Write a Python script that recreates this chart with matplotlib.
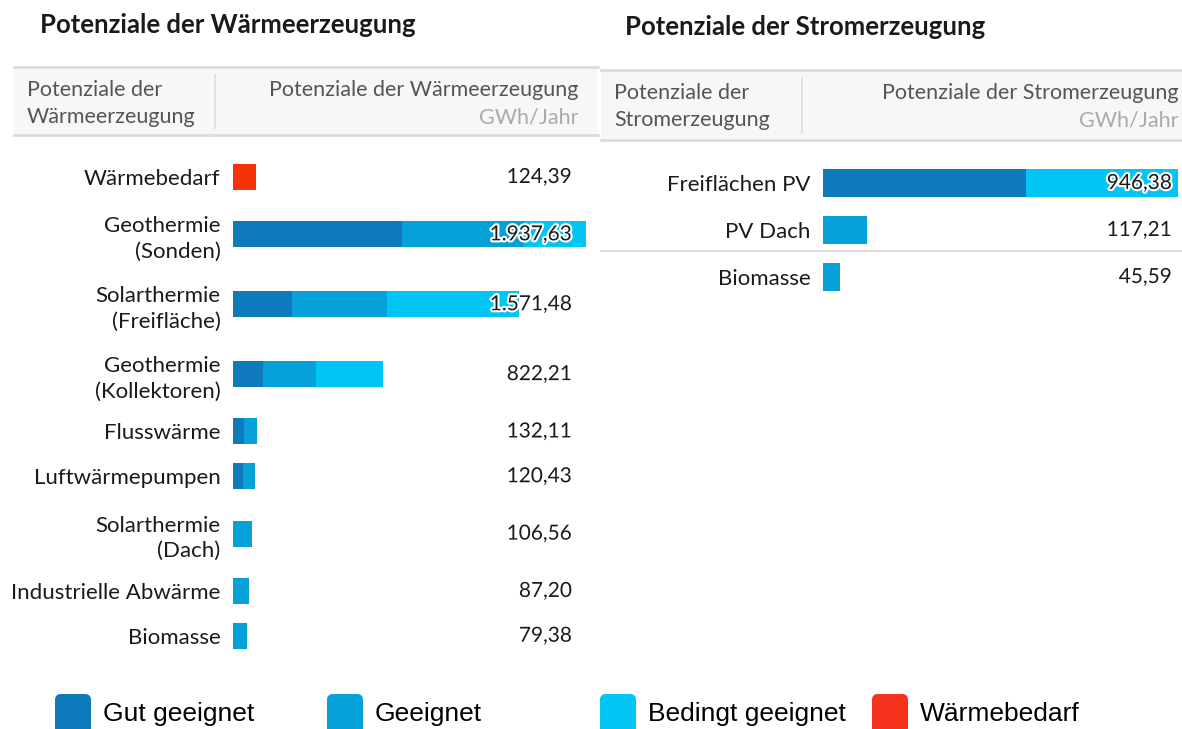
import matplotlib
matplotlib.use("Agg")
import matplotlib.pyplot as plt
import matplotlib.patheffects as pe
from matplotlib.patches import Rectangle, FancyBboxPatch

W, H = 1182, 729

# ---- data (GWh/Jahr) ----
heat_labels = ["Wärmebedarf", "Geothermie\n(Sonden)", "Solarthermie\n(Freifläche)",
               "Geothermie\n(Kollektoren)", "Flusswärme", "Luftwärmepumpen",
               "Solarthermie\n(Dach)", "Industrielle Abwärme", "Biomasse"]
heat_demand = [124.39, 0, 0, 0, 0, 0, 0, 0, 0]
heat_gut = [0, 930.0, 325.0, 165.0, 60.0, 55.0, 0, 0, 0]
heat_geeignet = [0, 668.0, 520.0, 290.0, 72.11, 65.43, 106.56, 87.20, 79.38]
heat_bedingt = [0, 339.63, 726.48, 367.21, 0, 0, 0, 0, 0]
heat_totals = ["124,39", "1.937,63", "1.571,48", "822,21", "132,11", "120,43",
               "106,56", "87,20", "79,38"]

power_labels = ["Freiflächen PV", "PV Dach", "Biomasse"]
power_gut = [540.0, 0, 0]
power_geeignet = [0, 117.21, 45.59]
power_bedingt = [406.38, 0, 0]
power_totals = ["946,38", "117,21", "45,59"]

legend_labels = ["Gut geeignet", "Geeignet", "Bedingt geeignet", "Wärmebedarf"]

# ---- style ----
C_GUT = "#0e7abc"
C_GEEIGNET = "#06a1d9"
C_BEDINGT = "#00c5f5"
C_DEMAND = "#f4330a"
C_LEG_DEMAND = "#f5321e"
FONT = "Lato"
TXT = "#1a1a1a"
HDR_TXT = "#555555"
HDR_UNIT = "#aaaaaa"
HDR_BG = "#f7f7f7"
HDR_LINE = "#dddddd"
LABEL_FS = 16
HDR_FS = 15.5


def fig_box(x0, y0, x1, y1):
    """pixel box (top-left origin) -> figure fraction [l, b, w, h]"""
    return [x0 / W, 1 - y1 / H, (x1 - x0) / W, (y1 - y0) / H]


def row_positions(labels):
    ys = [0.0]
    for a, b in zip(labels[:-1], labels[1:]):
        extra = a.count("\n") + b.count("\n")
        ys.append(ys[-1] + 1 + 0.28 * extra)
    return ys


fig = plt.figure(figsize=(W / 100, H / 100), dpi=100)
deco = fig.add_axes([0, 0, 1, 1], zorder=0)
deco.set_xlim(0, W)
deco.set_ylim(H, 0)
deco.axis("off")

# titles
deco.text(40, 25, "Potenziale der Wärmeerzeugung", fontsize=18.5, fontweight="bold",
          family=FONT, color=TXT, va="center", ha="left")
deco.text(625, 27, "Potenziale der Stromerzeugung", fontsize=18.5, fontweight="bold",
          family=FONT, color=TXT, va="center", ha="left")


def header(x0, x1, y0, y1, sep_x, txt_right, left_txt, right_txt):
    deco.add_patch(Rectangle((x0, y0), x1 - x0, y1 - y0, facecolor=HDR_BG,
                             edgecolor="none"))
    deco.plot([x0, x1], [y0, y0], color=HDR_LINE, lw=2)
    deco.plot([x0, x1], [y1, y1], color=HDR_LINE, lw=2)
    deco.plot([sep_x, sep_x], [y0 + 8, y1 - 7], color=HDR_LINE, lw=1.2)
    deco.text(x0 + 13, y0 + 23, left_txt.split("\n")[0], fontsize=HDR_FS, family=FONT,
              color=HDR_TXT, va="center", ha="left")
    deco.text(x0 + 13, y0 + 50, left_txt.split("\n")[1], fontsize=HDR_FS, family=FONT,
              color=HDR_TXT, va="center", ha="left")
    deco.text(txt_right, y0 + 23, right_txt, fontsize=HDR_FS,
              family=FONT, color=HDR_TXT, va="center", ha="right")
    deco.text(txt_right, y0 + 50, "GWh/Jahr", fontsize=HDR_FS, family=FONT,
              color=HDR_UNIT, va="center", ha="right")


header(14, 598, 67, 135, 215, 578, "Potenziale der\nWärmeerzeugung",
       "Potenziale der Wärmeerzeugung")
header(601, 1182, 70, 140, 802, 1178, "Potenziale der\nStromerzeugung",
       "Potenziale der Stromerzeugung")
deco.plot([601, 1182], [251, 251], color=HDR_LINE, lw=1.5)

outline = [pe.withStroke(linewidth=3, foreground="white")]


def bar_panel(box, px_per_unit, top_px, labels, segs, totals, xmax, bar_h, val_x):
    x0, y0, x1, y1 = box
    ax = fig.add_axes(fig_box(x0, y0, x1, y1), zorder=1)
    ax.patch.set_alpha(0)
    ys = row_positions(labels)
    left = [0.0] * len(labels)
    for vals, col in segs:
        ax.barh(ys, vals, left=left, height=bar_h, color=col, linewidth=0)
        left = [l + v for l, v in zip(left, vals)]
    ax.set_xlim(0, xmax)
    ax.set_ylim((y1 - top_px) / px_per_unit, (y0 - top_px) / px_per_unit)
    ax.set_yticks(ys, labels)
    ax.tick_params(axis="y", length=0, pad=9, labelsize=LABEL_FS, labelcolor=TXT)
    for lab in ax.get_yticklabels():
        lab.set_family(FONT)
        lab.set_linespacing(1.35)
    ax.set_xticks([])
    for s in ax.spines.values():
        s.set_visible(False)
    tr = ax.get_yaxis_transform()
    for y, t in zip(ys, totals):
        ax.text((val_x - x0) / (x1 - x0), y, t, transform=tr, ha="right", va="center",
                fontsize=15, family=FONT, color=TXT, path_effects=outline,
                clip_on=False, zorder=5)
    return ax


bar_panel((233, 150, 586, 660), 44.8, 177, heat_labels,
          [(heat_demand, C_DEMAND), (heat_gut, C_GUT), (heat_geeignet, C_GEEIGNET),
           (heat_bedingt, C_BEDINGT)],
          heat_totals, 1940, 0.58, 572)
bar_panel((823, 150, 1182, 310), 47.0, 183, power_labels,
          [(power_gut, C_GUT), (power_geeignet, C_GEEIGNET), (power_bedingt, C_BEDINGT)],
          power_totals, 957, 0.6, 1172)

# legend
leg_colors = [C_GUT, C_GEEIGNET, C_BEDINGT, C_LEG_DEMAND]
leg_x = [55, 327, 600, 872]
for x, col, lab in zip(leg_x, leg_colors, legend_labels):
    deco.add_patch(FancyBboxPatch((x, 694), 36, 40, boxstyle="round,pad=0,rounding_size=6",
                                  facecolor=col, edgecolor="none", clip_on=False))
    deco.text(x + 48, 714, lab, fontsize=19, family="Liberation Sans", color="black",
              va="center", ha="left")

fig.savefig("out.png", dpi=100)
